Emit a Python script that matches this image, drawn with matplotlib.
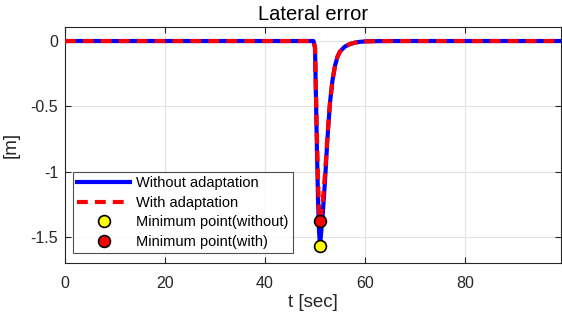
import matplotlib
matplotlib.use("Agg")
import matplotlib.pyplot as plt

plt.rcParams['font.family'] = ['Liberation Sans', 'DejaVu Sans']

# Time samples (s)
t = [0, 49.7, 50.0, 50.2, 50.4, 50.6, 50.8, 51.0, 51.5, 52.0, 52.5, 53.0, 53.5,
     54.0, 54.5, 55.0, 56.0, 57.0, 58.0, 59.0, 60.0, 62.0, 65.0, 99.2]
# Lateral error without adaptation (m)
err_without = [0, 0, -0.05, -0.45, -0.85, -1.2, -1.45, -1.567, -1.35, -1.07, -0.74,
               -0.47, -0.30, -0.19, -0.12, -0.08, -0.042, -0.023, -0.012, -0.006,
               -0.003, -0.001, 0, 0]
# Lateral error with adaptation (m)
err_with = [0, 0, -0.05, -0.40, -0.75, -1.05, -1.28, -1.376, -1.25, -1.02, -0.72,
            -0.47, -0.30, -0.19, -0.12, -0.08, -0.042, -0.023, -0.012, -0.006,
            -0.003, -0.001, 0, 0]
min_without = (51.0, -1.567)
min_with = (51.0, -1.376)

xticks = [0, 20, 40, 60, 80]
yticks = [0, -0.5, -1, -1.5]
ytick_labels = ['0', '-0.5', '-1', '-1.5']

fig = plt.figure(figsize=(5.62, 3.22), dpi=100)
ax = fig.add_axes([65/562, 1-263.3/322, (561-65)/562, (263.3-27.3)/322])

ax.plot(t, err_without, color='#0000ff', lw=3, label='Without adaptation', zorder=3)
ax.plot(t, err_with, color='#ff0000', lw=3, dashes=(2.6, 1.7), label='With adaptation', zorder=4)
ax.plot([min_without[0]], [min_without[1]], 'o', ms=8.5, mfc='#ffff00', mec='black', mew=1.2,
        linestyle='none', label='Minimum point(without)', zorder=5)
ax.plot([min_with[0]], [min_with[1]], 'o', ms=8.5, mfc='#ff0000', mec='black', mew=1.2,
        linestyle='none', label='Minimum point(with)', zorder=5)

ax.set_xlim(0, 99.2)
ax.set_ylim(-1.70, 0.105)
ax.set_xticks(xticks)
ax.set_yticks(yticks)
ax.set_yticklabels(ytick_labels)
ax.grid(True, color='#e3e3e3', lw=0.8)
ax.set_axisbelow(True)
ax.tick_params(direction='in', top=True, right=True, length=4, width=0.8,
               colors='#262626', labelsize=11.5)
ax.tick_params(axis='x', pad=9)
ax.tick_params(axis='y', pad=5)
for s in ax.spines.values():
    s.set_color('#262626')
    s.set_linewidth(0.8)

ax.set_title('Lateral error', fontsize=14.5, color='black', pad=5)
ax.set_xlabel('t [sec]', fontsize=13.5, color='#262626', labelpad=2)
ax.set_ylabel('[m]', fontsize=13.5, color='#262626', labelpad=8)

leg = ax.legend(loc='lower left', bbox_to_anchor=(8/496, 10/236), fontsize=10.5,
                frameon=True, fancybox=False, edgecolor='#262626', handlelength=3.6,
                borderpad=0.3, labelspacing=0.38, handletextpad=0.45, borderaxespad=0)
leg.get_frame().set_linewidth(0.8)

fig.savefig('out.png', dpi=100)
